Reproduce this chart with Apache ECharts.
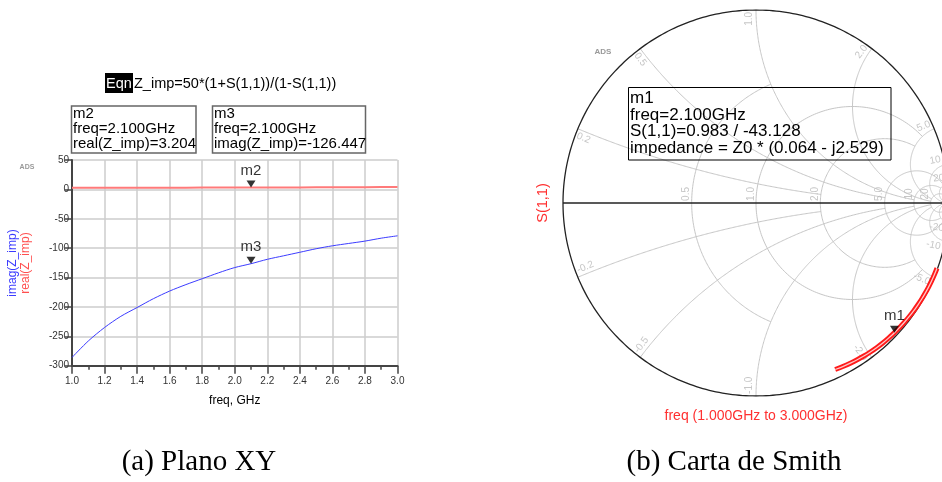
<!DOCTYPE html>
<html><head><meta charset="utf-8">
<script src="https://cdn.jsdelivr.net/npm/echarts@6/dist/echarts.min.js"></script>
<style>html,body{margin:0;padding:0;background:#fff}#c{width:942px;height:482px}</style>
</head><body><div id="c"></div>
<script>
// ---- data ----
const freqGHz = [1.0,1.1,1.2,1.3,1.4,1.5,1.6,1.7,1.8,1.9,2.0,2.1,2.2,2.3,2.4,2.5,2.6,2.7,2.8,2.9,3.0];
const imagZ   = [-286,-258,-235,-216,-201,-186,-173,-162,-152,-142,-133,-126.447,-119,-113,-107,-101,-96,-92,-88,-83,-79];
const realZ   = [2.6,2.6,2.7,2.7,2.8,2.8,2.9,2.9,3.0,3.1,3.15,3.204,3.25,3.3,3.4,3.5,3.6,3.7,3.8,3.9,4.0];
const markerIndex = 11; // 2.100 GHz
const Z0 = 50;
// Smith chart grid values
const smithR = [0.5, 1, 2, 5, 10, 20, 50];
const smithRLimitX = [1, 5, 5, 20, 20, 50, 50];
const smithX = [0.2, 0.5, 1, 2, 5, 10, 20, 50];
const smithXLimitR = [2, 5, 10, 20, 20, 50, 50, 50];
const smithRLabels = ['0.5','1.0','2.0','5.0','10','20'];
const smithXLabels = ['0.2','0.5','1.0','2.0','5.0','10','20'];

const FONT = '"Liberation Sans", Arial, sans-serif';
const SERIF = '"Liberation Serif", "Times New Roman", serif';

function gam(r, x){ const d=(r+1)*(r+1)+x*x; return [(r*r+x*x-1)/d, 2*x/d]; }
function rCirclePts(r, X){
  const c=r/(r+1), rho=1/(r+1);
  const p=gam(r,X); const th=Math.atan2(p[1], p[0]-c);
  const pts=[]; const N=200;
  for(let i=0;i<=N;i++){ const t=th+(2*Math.PI-2*th)*i/N; pts.push([c+rho*Math.cos(t), rho*Math.sin(t)]); }
  return pts;
}
function xArcPts(x, R){
  const cy=1/x, rho=Math.abs(1/x);
  const p0=gam(0,x), p1=gam(R,x);
  const a0=Math.atan2(p0[1]-cy,p0[0]-1), a1=Math.atan2(p1[1]-cy,p1[0]-1);
  let d=a1-a0; while(d>Math.PI)d-=2*Math.PI; while(d<=-Math.PI)d+=2*Math.PI;
  const pts=[]; const N=200;
  for(let i=0;i<=N;i++){ const a=a0+d*i/N; pts.push([1+rho*Math.cos(a), cy+rho*Math.sin(a)]); }
  return pts;
}

const gridLines = [];
smithR.forEach((r,i)=>gridLines.push({coords:rCirclePts(r, smithRLimitX[i])}));
smithX.forEach((x,i)=>{ gridLines.push({coords:xArcPts(x, smithXLimitR[i])}); gridLines.push({coords:xArcPts(-x, smithXLimitR[i])}); });
const outer = []; for(let i=0;i<=360;i++){ const a=i*Math.PI/180; outer.push([Math.cos(a), Math.sin(a)]); }

const smithLabelData = [];
smithX.slice(0,7).forEach((x,i)=>{
  [1,-1].forEach(s=>{
    const p=gam(0,s*x); const a=Math.atan2(p[1],p[0]) + s*2*Math.PI/180;
    const txt=(s<0?'-':'')+smithXLabels[i];
    const rad = s<0?0.945:0.955;
    let rot = Math.atan2(p[1],p[0])*180/Math.PI;
    if(rot>90) rot-=180; if(rot<-90) rot+=180;
    if(Math.abs(Math.abs(rot)-90)<0.5) rot=90;
    smithLabelData.push({value:[rad*Math.cos(a), rad*Math.sin(a)], label:{formatter:txt, rotate:rot}});
  });
});
smithR.slice(0,6).forEach((r,i)=>{
  const g0=(r-1)/(r+1);
  smithLabelData.push({value:[g0-0.026, 0.047], label:{formatter:smithRLabels[i], rotate:90}});
});

const s11 = freqGHz.map((f,i)=>gam(realZ[i]/Z0, imagZ[i]/Z0));

const triPath = 'path://M0,0 L10,0 L5,8 Z';

const chart = echarts.init(document.getElementById('c'), null, {renderer:'canvas'});
chart.setOption({
  animation:false,
  backgroundColor:'#fff',
  grid:[
    {left:72, top:160, width:325.5, height:205.7, outerBoundsMode:'none', containLabel:false},
    {left:563, top:10, width:386, height:386, outerBoundsMode:'none', containLabel:false}
  ],
  xAxis:[
    {gridIndex:0, type:'value', min:1, max:3, interval:0.2,
     axisLine:{show:true, onZero:false, lineStyle:{color:'#444', width:2}},
     axisTick:{show:true, length:8, lineStyle:{color:'#444', width:1.5}},
     minorTick:{show:true, splitNumber:2, length:4, lineStyle:{color:'#444', width:1.5}},
     axisLabel:{formatter:v=>v.toFixed(1), fontSize:10, color:'#333', margin:11, fontFamily:FONT},
     splitLine:{show:true, lineStyle:{color:'#cdcdcd', width:1.5}},
     name:'freq, GHz', nameLocation:'middle', nameGap:29,
     nameTextStyle:{fontSize:12, color:'#000', fontFamily:FONT}},
    {gridIndex:1, type:'value', min:-1, max:1, show:false}
  ],
  yAxis:[
    {gridIndex:0, type:'value', min:-300, max:50, interval:50,
     axisLine:{show:true, onZero:false, lineStyle:{color:'#444', width:2}},
     axisTick:{show:true, length:7, lineStyle:{color:'#444', width:1.5}},
     axisLabel:{fontSize:10, color:'#333', margin:3, fontFamily:FONT},
     splitLine:{show:true, lineStyle:{color:'#cdcdcd', width:1.5}}},
    {gridIndex:1, type:'value', min:-1, max:1, show:false}
  ],
  series:[
    {type:'line', xAxisIndex:0, yAxisIndex:0, data:freqGHz.map((f,i)=>[f,realZ[i]]),
     showSymbol:false, lineStyle:{color:'#ff7a7a', width:2}, z:3},
    {type:'line', xAxisIndex:0, yAxisIndex:0, data:freqGHz.map((f,i)=>[f,imagZ[i]]),
     showSymbol:false, smooth:0.3, lineStyle:{color:'#3c3cff', width:1}, z:3},
    {type:'scatter', xAxisIndex:0, yAxisIndex:0, symbol:triPath, symbolSize:[9,7], symbolOffset:[0,'-50%'],
     itemStyle:{color:'#000'}, z:5,
     label:{show:true, position:'top', distance:2, fontSize:15, color:'#000', fontFamily:FONT, formatter:p=>p.data.name},
     data:[{name:'m2', value:[freqGHz[markerIndex], realZ[markerIndex]]},{name:'m3', value:[freqGHz[markerIndex], imagZ[markerIndex]]}]},
    // Smith chart grid
    {type:'lines', coordinateSystem:'cartesian2d', xAxisIndex:1, yAxisIndex:1, polyline:true, silent:true,
     lineStyle:{color:'#c6c6c6', width:1, opacity:1}, data:gridLines, z:1},
    {type:'lines', coordinateSystem:'cartesian2d', xAxisIndex:1, yAxisIndex:1, polyline:true, silent:true,
     lineStyle:{color:'#222', width:1.3, opacity:1}, data:[{coords:outer},{coords:[[-1,0],[1,0]]}], z:2},
    {type:'scatter', xAxisIndex:1, yAxisIndex:1, symbolSize:0, silent:true, z:2,
     label:{show:true, position:'inside', fontSize:10, color:'#b8b8b8', fontFamily:FONT},
     data:smithLabelData},
    {type:'line', xAxisIndex:1, yAxisIndex:1, data:s11, showSymbol:false, smooth:0.3,
     lineStyle:{color:'#ff1a1a', width:5}, z:3},
    {type:'line', xAxisIndex:1, yAxisIndex:1, data:s11, showSymbol:false, smooth:0.3,
     lineStyle:{color:'#ffc8c8', width:1.3}, z:4},
    {type:'scatter', xAxisIndex:1, yAxisIndex:1, symbol:triPath, symbolSize:[9,7], symbolOffset:[0,'-50%'],
     itemStyle:{color:'#000'}, z:5,
     label:{show:true, position:'top', distance:2, fontSize:15, color:'#000', fontFamily:FONT, formatter:'m1'},
     data:[s11[markerIndex]]}
  ],
  graphic:[
    {type:'rect', shape:{x:105, y:73, width:28, height:20}, style:{fill:'#000'}},
    {type:'text', x:119, y:83.5, style:{text:'Eqn', fill:'#fff', font:'14.5px '+FONT, align:'center', verticalAlign:'middle'}},
    {type:'text', x:134, y:84, style:{text:'Z_imp=50*(1+S(1,1))/(1-S(1,1))', fill:'#000', font:'14.5px '+FONT, align:'left', verticalAlign:'middle'}},
    {type:'rect', shape:{x:71.5, y:106, width:124.5, height:47}, style:{fill:'none', stroke:'#666', lineWidth:1.5}},
    {type:'text', x:73, y:114, style:{text:'m2', fill:'#000', font:'15px '+FONT, verticalAlign:'middle'}},
    {type:'text', x:73, y:129, style:{text:'freq=2.100GHz', fill:'#000', font:'15px '+FONT, verticalAlign:'middle'}},
    {type:'text', x:73, y:143.5, style:{text:'real(Z_imp)='+realZ[markerIndex].toFixed(3), fill:'#000', font:'15px '+FONT, verticalAlign:'middle'}},
    {type:'rect', shape:{x:212.5, y:106, width:153, height:47}, style:{fill:'none', stroke:'#666', lineWidth:1.5}},
    {type:'text', x:214, y:114, style:{text:'m3', fill:'#000', font:'15px '+FONT, verticalAlign:'middle'}},
    {type:'text', x:214, y:129, style:{text:'freq=2.100GHz', fill:'#000', font:'15px '+FONT, verticalAlign:'middle'}},
    {type:'text', x:214, y:143.5, style:{text:'imag(Z_imp)='+imagZ[markerIndex].toFixed(3), fill:'#000', font:'15px '+FONT, verticalAlign:'middle'}},
    {type:'text', x:27, y:167, style:{text:'ADS', fill:'#999', font:'bold 7px '+FONT, align:'center', verticalAlign:'middle'}},
    {type:'text', x:13, y:263, rotation:Math.PI/2, style:{text:'imag(Z_imp)', fill:'#3c3cff', font:'12px '+FONT, align:'center', verticalAlign:'middle'}},
    {type:'text', x:26, y:263, rotation:Math.PI/2, style:{text:'real(Z_imp)', fill:'#ff5050', font:'12px '+FONT, align:'center', verticalAlign:'middle'}},
    // Smith side
    {type:'text', x:603, y:51.5, style:{text:'ADS', fill:'#999', font:'bold 8px '+FONT, align:'center', verticalAlign:'middle'}},
    {type:'rect', shape:{x:628.5, y:87.5, width:262.5, height:72.5}, style:{fill:'none', stroke:'#000', lineWidth:1}, z:10},
    {type:'text', x:630, y:98.5, style:{text:'m1', fill:'#000', font:'17px '+FONT, verticalAlign:'middle'}, z:10},
    {type:'text', x:630, y:115, style:{text:'freq=2.100GHz', fill:'#000', font:'17px '+FONT, verticalAlign:'middle'}, z:10},
    {type:'text', x:630, y:131.5, style:{text:'S(1,1)=0.983 / -43.128', fill:'#000', font:'17px '+FONT, verticalAlign:'middle'}, z:10},
    {type:'text', x:630, y:148.3, style:{text:'impedance = Z0 * (0.064 - j2.529)', fill:'#000', font:'17px '+FONT, verticalAlign:'middle'}, z:10},
    {type:'text', x:543, y:203, rotation:Math.PI/2, style:{text:'S(1,1)', fill:'#ff3030', font:'14.5px '+FONT, align:'center', verticalAlign:'middle'}},
    {type:'text', x:756, y:416.5, style:{text:'freq (1.000GHz to 3.000GHz)', fill:'#ff3030', font:'14px '+FONT, align:'center', verticalAlign:'middle'}},
    // captions
    {type:'text', x:199, y:462, style:{text:'(a) Plano XY', fill:'#000', font:'29px '+SERIF, align:'center', verticalAlign:'middle'}},
    {type:'text', x:734, y:462, style:{text:'(b) Carta de Smith', fill:'#000', font:'29px '+SERIF, align:'center', verticalAlign:'middle'}}
  ]
});
</script></body></html>
